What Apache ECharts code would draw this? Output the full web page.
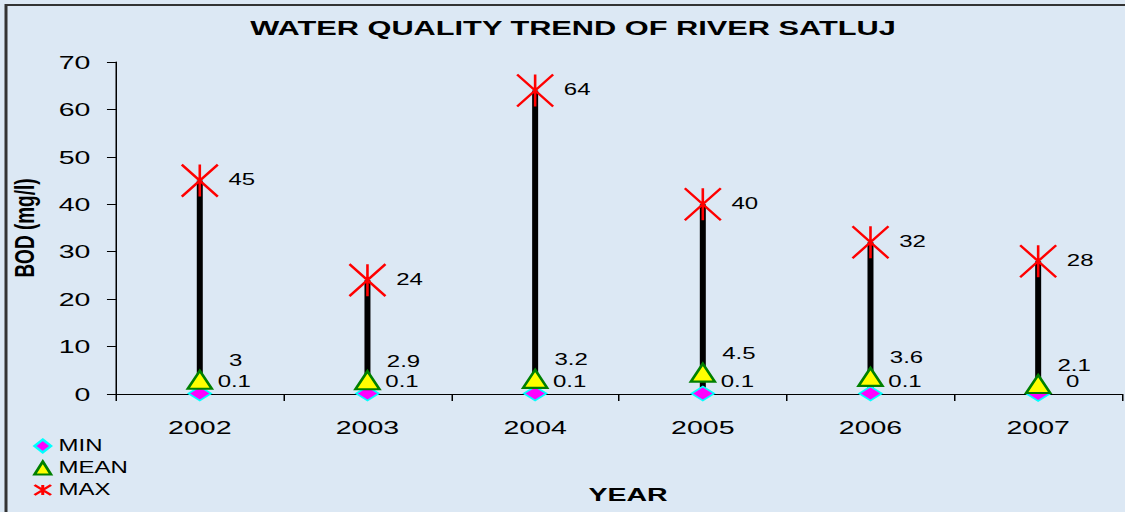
<!DOCTYPE html>
<html>
<head>
<meta charset="utf-8">
<script src="https://cdn.jsdelivr.net/npm/echarts@6/dist/echarts.min.js"></script>
<style>
html,body{margin:0;padding:0;overflow:hidden;background:#dce8f4;}
#wrap{width:1125px;height:512px;overflow:hidden;}
#chart{width:750px;height:512px;transform:scaleX(1.5);transform-origin:0 0;}
</style>
</head>
<body>
<div id="wrap"><div id="chart"></div></div>
<script>
const years = ['2002','2003','2004','2005','2006','2007'];
const minVals = [0.1, 0.1, 0.1, 0.1, 0.1, 0];
const meanVals = [3, 2.9, 3.2, 4.5, 3.6, 2.1];
const maxVals = [45, 24, 64, 40, 32, 28];
const yTicks = [0, 10, 20, 30, 40, 50, 60, 70];

const FONT = '"Liberation Sans", Arial, sans-serif';
const chart = echarts.init(document.getElementById('chart'), null, {renderer: 'svg'});
const asterisk = 'path://M0,0 L36,32 M0,32 L36,0 M18,0 L18,32';

const lblBase = {show: true, position: 'inside', color: '#000', fontSize: 16, fontFamily: FONT, align: 'center', verticalAlign: 'middle'};

chart.setOption({
  backgroundColor: '#dce8f4',
  animation: false,
  title: {
    text: 'WATER QUALITY TREND OF RIVER SATLUJ',
    left: 377, top: 12, textAlign: 'center',
    textStyle: {fontSize: 20.5, fontWeight: 'bold', color: '#000', fontFamily: FONT}
  },
  graphic: [{
    type: 'polyline', silent: true,
    shape: {points: [[4, 512], [4, 5], [750, 5]]},
    style: {stroke: '#333', lineWidth: 2, fill: null}
  }],
  legend: {
    orient: 'vertical', left: 22, top: 438, padding: 0,
    itemWidth: 11, itemHeight: 13, itemGap: 6,
    data: ['MIN', 'MEAN', 'MAX'],
    textStyle: {fontSize: 16, color: '#000', fontFamily: FONT}
  },
  grid: {left: 77.3, right: 2, top: 62, bottom: 118, containLabel: false, outerBoundsMode: 'none'},
  xAxis: {
    type: 'category', data: years,
    name: 'YEAR', nameLocation: 'middle', nameGap: 91,
    nameTextStyle: {fontSize: 19, fontWeight: 'bold', color: '#000', fontFamily: FONT, padding: [0, 0, 0, 12]},
    axisLine: {lineStyle: {color: '#000', width: 1}},
    axisTick: {show: true, length: 7, lineStyle: {color: '#000'}},
    axisLabel: {fontSize: 19, color: '#000', fontFamily: FONT, margin: 24},
    splitLine: {show: false}
  },
  yAxis: {
    type: 'value', min: 0, max: 70, interval: 10,
    name: 'BOD (mg/l)', nameLocation: 'middle', nameGap: 52, nameRotate: 90,
    nameTextStyle: {fontSize: 19, fontWeight: 'bold', color: '#000', fontFamily: FONT},
    axisLine: {show: true, lineStyle: {color: '#000', width: 1}},
    axisTick: {show: true, length: 6, lineStyle: {color: '#000'}},
    axisLabel: {fontSize: 19, color: '#000', fontFamily: FONT, margin: 17,
      formatter: v => yTicks.includes(v) ? String(v) : ''},
    splitLine: {show: false}
  },
  series: [
    {
      type: 'custom', name: 'range', z: 1,
      data: years.map((y, i) => [i, minVals[i], maxVals[i]]),
      encode: {x: 0, y: [1, 2]},
      renderItem: function (params, api) {
        const p1 = api.coord([api.value(0), api.value(1)]);
        const p2 = api.coord([api.value(0), api.value(2)]);
        return {type: 'line', shape: {x1: p1[0], y1: p1[1], x2: p2[0], y2: p2[1]},
                style: {stroke: '#000', lineWidth: 4}};
      }
    },
    {
      type: 'scatter', name: 'MIN', z: 3,
      data: minVals,
      symbol: 'diamond', symbolSize: [15, 14],
      itemStyle: {color: '#ff00ff', borderColor: '#00ffff', borderWidth: 1.5, opacity: 1},
      label: Object.assign({}, lblBase, {offset: [23, -12]})
    },
    {
      type: 'scatter', name: 'MEAN', z: 4,
      data: meanVals,
      symbol: 'triangle', symbolSize: [16, 18],
      itemStyle: {color: '#ffff00', borderColor: '#008000', borderWidth: 2, opacity: 1},
      label: Object.assign({}, lblBase, {offset: [24, -19]})
    },
    {
      type: 'scatter', name: 'MAX', z: 5,
      data: maxVals,
      symbol: asterisk, symbolSize: [24, 32],
      itemStyle: {color: 'rgba(0,0,0,0)', borderColor: '#ff0000', borderWidth: 2, opacity: 1},
      label: Object.assign({}, lblBase, {offset: [28, -1]})
    }
  ]
});
</script>
</body>
</html>
